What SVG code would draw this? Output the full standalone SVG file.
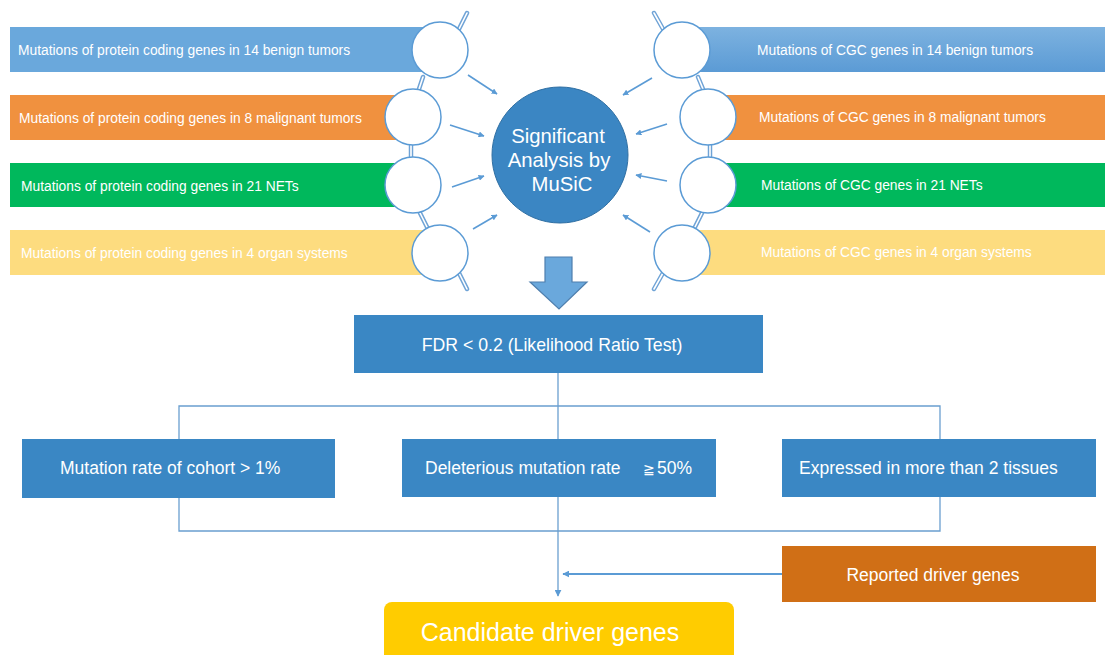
<svg xmlns="http://www.w3.org/2000/svg" width="1105" height="655" viewBox="0 0 1105 655">
  <defs>
    <style>
      text { font-family: "Liberation Sans", Arial, sans-serif; fill: #ffffff; }
      .bar-t { font-size: 13.8px; }
      .box-t { font-size: 17.5px; }
      .ring { fill: #ffffff; stroke: #5b9bd5; stroke-width: 1.5; }
      .rail-o { stroke: #6fa3d6; stroke-width: 4.5; stroke-linecap: round; fill: none; }
      .rail-i { stroke: #ffffff; stroke-width: 1.6; stroke-linecap: round; fill: none; }
      .feed { stroke: #5b9bd5; stroke-width: 1.6; fill: none; marker-end: url(#ah); }
      .wire { stroke: #6a9fd0; stroke-width: 1.3; fill: none; }
      .blue-box { fill: #3a87c4; }
    </style>
    <marker id="ah" viewBox="0 0 10 10" refX="9" refY="5" markerWidth="6" markerHeight="6" orient="auto" markerUnits="userSpaceOnUse">
      <path d="M0,0 L10,5 L0,10 z" fill="#5b9bd5"/>
    </marker>
    <marker id="ah2" viewBox="0 0 10 10" refX="9" refY="5" markerWidth="7" markerHeight="7" orient="auto" markerUnits="userSpaceOnUse">
      <path d="M0,0 L10,5 L0,10 z" fill="#5b9bd5"/>
    </marker>
    <linearGradient id="gBlue" x1="0" y1="0" x2="0" y2="1">
      <stop offset="0" stop-color="#7db2e0"/>
      <stop offset="1" stop-color="#5b9bd5"/>
    </linearGradient>
  </defs>

  <!-- left input bars -->
  <g id="bar-left-1"><rect x="10" y="27" width="430" height="45" fill="#6aa8dc"/><text class="bar-t" x="18" y="55">Mutations of protein coding genes in 14 benign tumors</text></g>
  <g id="bar-left-2"><rect x="10" y="95" width="403" height="45" fill="#f0913f"/><text class="bar-t" x="19" y="123">Mutations of protein coding genes in 8 malignant tumors</text></g>
  <g id="bar-left-3"><rect x="10" y="163" width="403" height="44" fill="#00b85c"/><text class="bar-t" x="21" y="191">Mutations of protein coding genes in 21 NETs</text></g>
  <g id="bar-left-4"><rect x="10" y="230" width="430" height="45" fill="#fddc7f"/><text class="bar-t" x="21" y="258">Mutations of protein coding genes in 4 organ systems</text></g>

  <!-- right input bars -->
  <g id="bar-right-1"><rect x="682" y="27" width="423" height="45" fill="url(#gBlue)"/><text class="bar-t" x="757" y="55">Mutations of CGC genes in 14 benign tumors</text></g>
  <g id="bar-right-2"><rect x="708" y="95" width="397" height="45" fill="#f0913f"/><text class="bar-t" x="759" y="122">Mutations of CGC genes in 8 malignant tumors</text></g>
  <g id="bar-right-3"><rect x="708" y="163" width="397" height="44" fill="#00b85c"/><text class="bar-t" x="761" y="190">Mutations of CGC genes in 21 NETs</text></g>
  <g id="bar-right-4"><rect x="682" y="230" width="423" height="45" fill="#fddc7f"/><text class="bar-t" x="761" y="257">Mutations of CGC genes in 4 organ systems</text></g>

  <!-- chain rails linking the rings -->
  <g id="rails">
    <path class="rail-o" d="M459,29 L467,13 M423,77 L419,89 M411,145 L411,157 M420,213 L427,227 M459,273 L467,289"/>
    <path class="rail-i" d="M459,29 L467,13 M423,77 L419,89 M411,145 L411,157 M420,213 L427,227 M459,273 L467,289"/>
    <path class="rail-o" d="M663,29 L654,13 M698,77 L703,89 M710,145 L710,157 M702,213 L695,227 M663,273 L654,289"/>
    <path class="rail-i" d="M663,29 L654,13 M698,77 L703,89 M710,145 L710,157 M702,213 L695,227 M663,273 L654,289"/>
  </g>

  <!-- rings -->
  <g id="ring-left-1"><circle class="ring" cx="440" cy="50" r="28"/></g>
  <g id="ring-left-2"><circle class="ring" cx="413" cy="117" r="28"/></g>
  <g id="ring-left-3"><circle class="ring" cx="413" cy="185" r="28"/></g>
  <g id="ring-left-4"><circle class="ring" cx="440" cy="253" r="28"/></g>
  <g id="ring-right-1"><circle class="ring" cx="682" cy="50" r="28"/></g>
  <g id="ring-right-2"><circle class="ring" cx="708" cy="117" r="28"/></g>
  <g id="ring-right-3"><circle class="ring" cx="708" cy="185" r="28"/></g>
  <g id="ring-right-4"><circle class="ring" cx="682" cy="253" r="28"/></g>

  <!-- MuSiC hub -->
  <g id="music">
    <circle cx="560" cy="155" r="68" fill="#3b86c3" stroke="#2f6fa3" stroke-width="1"/>
    <text x="558" y="143" font-size="20.3" text-anchor="middle">Significant</text>
    <text x="559" y="167" font-size="20.3" text-anchor="middle">Analysis by</text>
    <text x="562" y="191" font-size="20.3" text-anchor="middle">MuSiC</text>
  </g>

  <!-- big down arrow -->
  <g id="down-arrow">
    <path d="M545,257 L572,257 L572,282 L587,282 L559,309 L530,282 L545,282 Z" fill="#6aa8dc" stroke="#4f7fae" stroke-width="1.2"/>
  </g>

  <!-- filter boxes -->
  <g id="fdr"><rect class="blue-box" x="354" y="315" width="409" height="58"/><text x="552" y="351" font-size="17.7" text-anchor="middle">FDR &lt; 0.2 (Likelihood Ratio Test)</text></g>
  <g id="rate"><rect class="blue-box" x="22" y="439" width="313" height="59"/><text class="box-t" x="60" y="474">Mutation rate of cohort &gt; 1%</text></g>
  <g id="deleterious"><rect class="blue-box" x="402" y="439" width="314" height="58"/><text class="box-t" x="425" y="474">Deleterious mutation rate</text><text x="643" y="474" font-size="14">≧</text><text class="box-t" x="657" y="474">50%</text></g>
  <g id="expressed"><rect class="blue-box" x="782" y="439" width="314" height="58"/><text class="box-t" x="799" y="474">Expressed in more than 2 tissues</text></g>
  <g id="reported"><rect x="782" y="546" width="314" height="56" fill="#d06f16"/><text x="933" y="581" font-size="17.5" text-anchor="middle">Reported driver genes</text></g>
  <g id="candidate"><rect x="384" y="602" width="350" height="70" rx="8" fill="#ffcc00"/><text x="550" y="641" font-size="25" text-anchor="middle">Candidate driver genes</text></g>

  <!-- connectors -->
  <g id="connectors">
    <path class="feed" d="M468,75 L497,94"/>
    <path class="feed" d="M450,125 L484,136"/>
    <path class="feed" d="M452,187 L484,176"/>
    <path class="feed" d="M473,229 L497,215"/>
    <path class="feed" d="M652,78 L623,95"/>
    <path class="feed" d="M667,124 L636,134"/>
    <path class="feed" d="M667,181 L636,175"/>
    <path class="feed" d="M650,232 L623,215"/>
    <path class="wire" d="M558,373 L558,439"/>
    <path class="wire" d="M179,439 L179,406 L940,406 L940,439"/>
    <path class="wire" d="M179,498 L179,531 L940,531 L940,497"/>
    <path class="wire" d="M558,497 L558,596" marker-end="url(#ah2)"/>
    <path d="M782,574 L563,574" stroke="#5b9bd5" stroke-width="2" fill="none" marker-end="url(#ah2)"/>
  </g>
</svg>
